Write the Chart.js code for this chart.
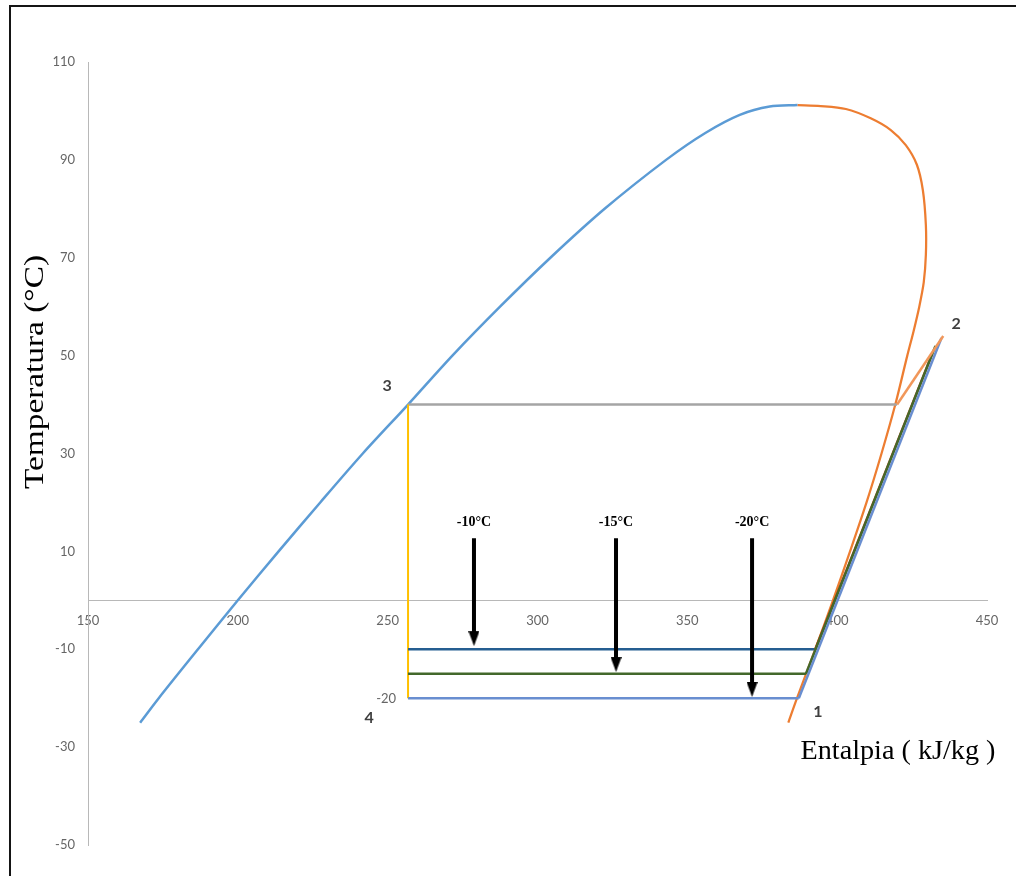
<!DOCTYPE html>
<html>
<head>
<meta charset="utf-8">
<title>Ciclo de refrigeración R-134a</title>
<script src="https://cdn.jsdelivr.net/npm/chart.js@4.4.1/dist/chart.umd.min.js"></script>
<style>
  html, body { margin: 0; padding: 0; background: #fff; overflow: hidden; }
  canvas { display: block; }
</style>
</head>
<body>
<canvas id="chart" width="1016" height="876"></canvas>
<script>
// Axis ticks
const enthalpyTicks = [150, 200, 250, 300, 350, 400, 450];
const tempTicks = [-50, -30, -10, 10, 30, 50, 70, 90, 110];

// Saturated liquid line (h in kJ/kg, T in °C)
const liquidH = [167.4, 173.6, 186.7, 200.0, 213.6, 227.5, 241.7, 256.8, 271.6, 287.5, 304.3, 322.4, 342.9, 356.0, 367.5, 377.5, 386.8];
const liquidT = [-25, -20, -10, 0, 10, 20, 30, 40, 50, 60, 70, 80, 90, 95.5, 99.2, 100.9, 101.2];

// Saturated vapour line
const vaporH = [386.8, 394.5, 402.9, 411.2, 417.9, 422.9, 426.6, 428.6, 429.6, 429.6, 428.9, 427.4, 425.5, 423.4, 419.4, 414.8, 409.8, 404.3, 398.6, 392.7, 386.6, 383.7];
const vaporT = [101.2, 101.0, 100.4, 98.5, 96.1, 93.0, 89.0, 83.8, 76.7, 70.6, 65, 60, 55, 50, 40, 30, 20, 10, 0, -10, -20, -25];

// Cycle states
const condH = [256.8, 420.0];          // condensation at 40 °C (3 -> sat. vapour)
const condT = [40, 40];
const point2 = [435.4, 54.0];          // compressor discharge
const evapTemps = [-10, -15, -20];     // evaporating temperatures
const evapInH = [256.8, 256.8, 256.8]; // after expansion (h4 = h3)
const evapOutH = [392.7, 389.6, 387.2];
const dischargeH = [431.8, 432.8, 434.8];
const dischargeT = [50.5, 52.0, 53.6];

// Evaporating-temperature markers
const arrowLabels = ['-10°C', '-15°C', '-20°C'];
const arrowH = [278.8, 326.2, 371.6];
const arrowTopT = 12.7;
const arrowEndT = [-6.7, -12.0, -17.1];

const pts = (hs, ts) => hs.map((h, i) => ({ x: h, y: ts[i] }));

function makeArrowHead() {
  const c = document.createElement('canvas');
  c.width = 11; c.height = 26;
  const g = c.getContext('2d');
  g.fillStyle = '#000';
  g.beginPath();
  g.moveTo(0, 11); g.lineTo(11, 11); g.lineTo(5.5, 26);
  g.closePath(); g.fill();
  return c;
}
const arrowHead = makeArrowHead();

const evapColors = ['#255E91', '#43682B', '#698ED0'];
const compColors = ['#9E480E', '#43682B', '#698ED0'];

const lineDs = (data, color, width, extra) => Object.assign({
  data, borderColor: color, backgroundColor: color, borderWidth: width,
  showLine: true, pointRadius: 0, tension: 0, fill: false
}, extra || {});

const datasets = [
  lineDs(pts(liquidH, liquidT), '#5B9BD5', 2.5, { tension: 0.3 }),
  lineDs(pts(vaporH, vaporT), '#ED7D31', 2.25, { tension: 0.3 }),
  lineDs(pts(condH, condT), '#A5A5A5', 2.5),
  lineDs([{ x: evapInH[0], y: condT[0] }, { x: evapInH[2], y: evapTemps[2] }], '#FFC000', 2),
];
evapTemps.forEach((t, i) => {
  datasets.push(lineDs([{ x: evapInH[i], y: t }, { x: evapOutH[i], y: t }], evapColors[i], 2.5));
});
evapTemps.forEach((t, i) => {
  datasets.push(lineDs([{ x: evapOutH[i], y: t }, { x: dischargeH[i], y: dischargeT[i] }], compColors[i], 2.5));
});
datasets.push(lineDs([{ x: condH[1], y: condT[1] }, { x: point2[0], y: point2[1] }], '#F1975A', 2.5));
arrowH.forEach((h, i) => {
  datasets.push(lineDs([{ x: h, y: arrowTopT }, { x: h, y: arrowEndT[i] }], '#000', 4, {
    pointRadius: [0, 6], pointStyle: arrowHead, borderCapStyle: 'butt'
  }));
});
// later series are painted on top
datasets.forEach((d, i) => { d.order = datasets.length - i; });

const annotations = {
  id: 'annotations',
  beforeDraw(chart) {
    const ctx = chart.ctx;
    ctx.save();
    ctx.fillStyle = '#fff';
    ctx.fillRect(0, 0, chart.width, chart.height);
    ctx.fillStyle = '#151515';
    ctx.fillRect(9, 5, 2, chart.height - 5);
    ctx.fillRect(9, 5, chart.width - 9, 2);
    ctx.restore();
  },
  afterDatasetsDraw(chart) {
    const { ctx, scales } = chart;
    const px = h => scales.x.getPixelForValue(h);
    const py = t => scales.y.getPixelForValue(t);
    ctx.save();

    // evaporating temperature captions
    ctx.fillStyle = '#000';
    ctx.font = 'bold 14px "Liberation Serif", "Times New Roman", serif';
    ctx.textAlign = 'center';
    ctx.textBaseline = 'middle';
    arrowLabels.forEach((s, i) => ctx.fillText(s, px(arrowH[i]), py(arrowTopT) - 16));

    // state numbers
    ctx.fillStyle = '#404040';
    ctx.font = 'bold 16px Lato, "Open Sans", sans-serif';
    ctx.fillText('1', px(evapOutH[2]) + 19, py(evapTemps[2]) + 14);
    ctx.fillText('2', px(point2[0]) + 13, py(point2[1]) - 12);
    ctx.fillText('3', px(condH[0]) - 21, py(condT[0]) - 19);
    ctx.fillText('4', px(evapInH[2]) - 39, py(evapTemps[2]) + 20);

    // temperature at state 4
    ctx.fillStyle = '#666';
    ctx.font = '13px Lato, "Open Sans", sans-serif';
    ctx.textAlign = 'right';
    ctx.fillText(String(evapTemps[2]), px(evapInH[2]) - 12, py(evapTemps[2]) + 1);

    // axis titles
    ctx.fillStyle = '#000';
    ctx.font = '27px "Liberation Serif", "Times New Roman", serif';
    ctx.textAlign = 'center';
    ctx.textBaseline = 'alphabetic';
    const yTitle = 'Temperatura (°C)';
    ctx.save();
    ctx.translate(43, 372);
    ctx.rotate(-Math.PI / 2);
    ctx.scale(234 / ctx.measureText(yTitle).width, 1);
    ctx.fillText(yTitle, 0, 0);
    ctx.restore();

    const xTitle = 'Entalpia ( kJ/kg )';
    ctx.save();
    ctx.translate(898, 759);
    ctx.scale(195 / ctx.measureText(xTitle).width, 1);
    ctx.fillText(xTitle, 0, 0);
    ctx.restore();

    ctx.restore();
  }
};

const tickFont = { family: 'Lato, "Open Sans", sans-serif', size: 13 };

new Chart(document.getElementById('chart'), {
  type: 'scatter',
  data: { datasets },
  options: {
    responsive: false,
    animation: false,
    layout: { padding: { left: 0, top: 62, right: 29, bottom: 31 } },
    plugins: { legend: { display: false }, tooltip: { enabled: false } },
    scales: {
      x: {
        type: 'linear', position: { y: 0 }, min: 150, max: 450,
        grid: { display: false, drawTicks: false },
        border: { display: true, color: '#B8B8B8', width: 1 },
        ticks: { padding: 13, color: '#666', font: tickFont, autoSkip: false, maxRotation: 0 },
        afterBuildTicks: s => { s.ticks = enthalpyTicks.map(v => ({ value: v })); },
        afterFit: s => { s.paddingLeft = 0; s.paddingRight = 0; }
      },
      y: {
        type: 'linear', position: 'left', min: -50, max: 110,
        grid: { display: false, drawTicks: false },
        border: { display: true, color: '#B8B8B8', width: 1 },
        ticks: { padding: 13, color: '#666', font: tickFont, autoSkip: false },
        afterBuildTicks: s => { s.ticks = tempTicks.map(v => ({ value: v })); },
        afterFit: s => { s.width = 88; s.paddingTop = 0; s.paddingBottom = 0; }
      }
    }
  },
  plugins: [annotations]
});
</script>
</body>
</html>
